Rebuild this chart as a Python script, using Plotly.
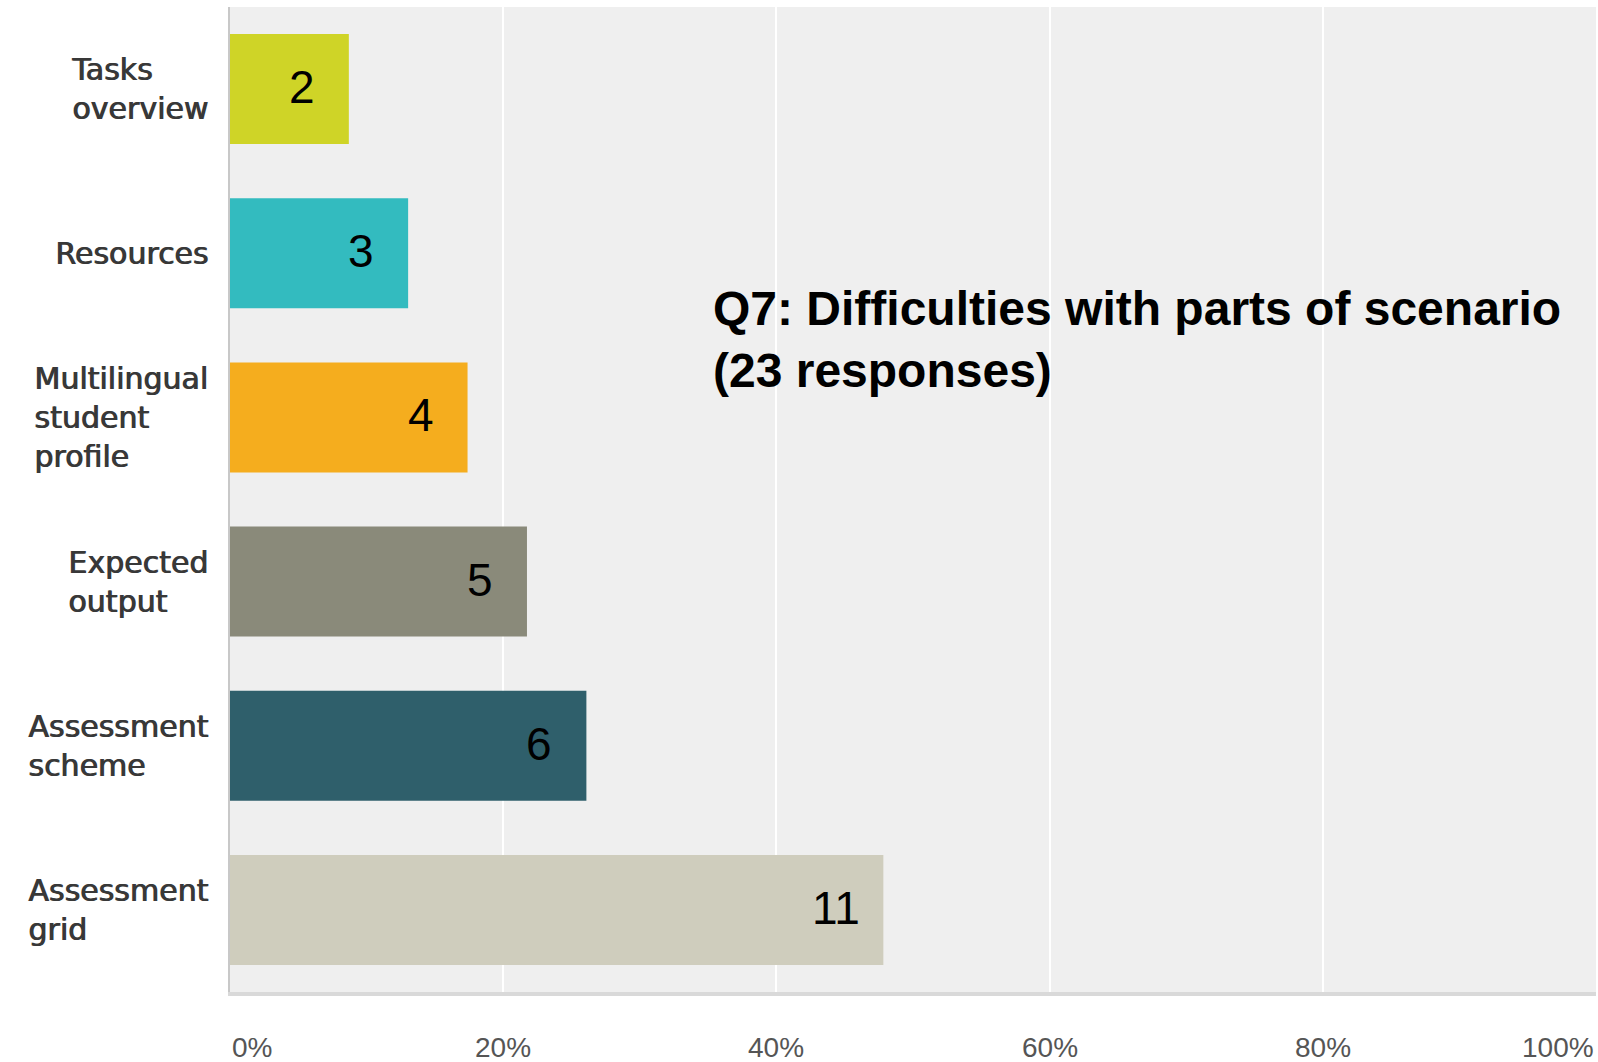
import plotly.graph_objects as go

categories = ["Tasks<br>overview", "Resources", "Multilingual<br>student<br>profile",
              "Expected<br>output", "Assessment<br>scheme", "Assessment<br>grid"]
counts = [2, 3, 4, 5, 6, 11]
percents = [8.70, 13.04, 17.39, 21.74, 26.09, 47.83]
bar_colors = ["#cfd427", "#33bbbf", "#f5ad1e", "#8a8a7a", "#2f5f6b", "#cfcdbd"]
tick_values = [0, 20, 40, 60, 80, 100]
tick_labels = ["0%", "20%", "40%", "60%", "80%", "100%"]
title_text = "Q7: Difficulties with parts of scenario<br>(23 responses)"

fig = go.Figure()
fig.add_trace(go.Bar(
    y=categories, x=percents, orientation="h",
    marker=dict(color=bar_colors, line=dict(width=0)),
    width=0.67, hoverinfo="skip",
))

annotations = []
for cat in categories:
    annotations.append(dict(
        x=0, xref="paper", y=cat, yref="y", text=cat, showarrow=False,
        xanchor="right", yanchor="middle", align="left", xshift=-20,
        font=dict(family="DejaVu Sans", size=30, color="#383838",
                  shadow="1px 0 0 #383838"),
    ))
for cat, val, cnt in zip(categories, percents, counts):
    annotations.append(dict(
        x=val, xref="x", y=cat, yref="y", text=str(cnt), showarrow=False,
        xanchor="center", yanchor="middle", xshift=-47, yshift=2,
        font=dict(family="Liberation Sans, Arial", size=46, color="#000000"),
    ))
for tv, tl in zip(tick_values, tick_labels):
    anchor = "left" if tv == tick_values[0] else ("right" if tv == tick_values[-1] else "center")
    annotations.append(dict(
        x=tv, xref="x", y=0, yref="paper", text=tl, showarrow=False,
        xanchor=anchor, yanchor="middle", yshift=-55,
        font=dict(family="Liberation Sans, Arial", size=28, color="#555555"),
    ))
annotations.append(dict(
    x=0.352, xref="paper", y=0.662, yref="paper", text=title_text, showarrow=False,
    xanchor="left", yanchor="middle", align="left",
    font=dict(family="Liberation Sans, Arial", size=48, color="#000000", weight="bold"),
))

fig.update_layout(
    width=1598, height=1062,
    margin=dict(l=230, r=2, t=7, b=70),
    paper_bgcolor="#ffffff", plot_bgcolor="#efefef",
    showlegend=False, bargap=0.33,
    annotations=annotations,
)
fig.update_xaxes(range=[0, 100], tickvals=tick_values, showticklabels=False,
                 showgrid=True, gridcolor="#ffffff", gridwidth=2, zeroline=False,
                 showline=True, linecolor="#d9d9d9", linewidth=4, fixedrange=True)
fig.update_yaxes(categoryorder="array", categoryarray=categories, autorange="reversed",
                 showticklabels=False, showgrid=False, zeroline=False,
                 showline=True, linecolor="#c8c8c8", linewidth=2, fixedrange=True)

fig.write_html("out.html", config={"displayModeBar": False})
